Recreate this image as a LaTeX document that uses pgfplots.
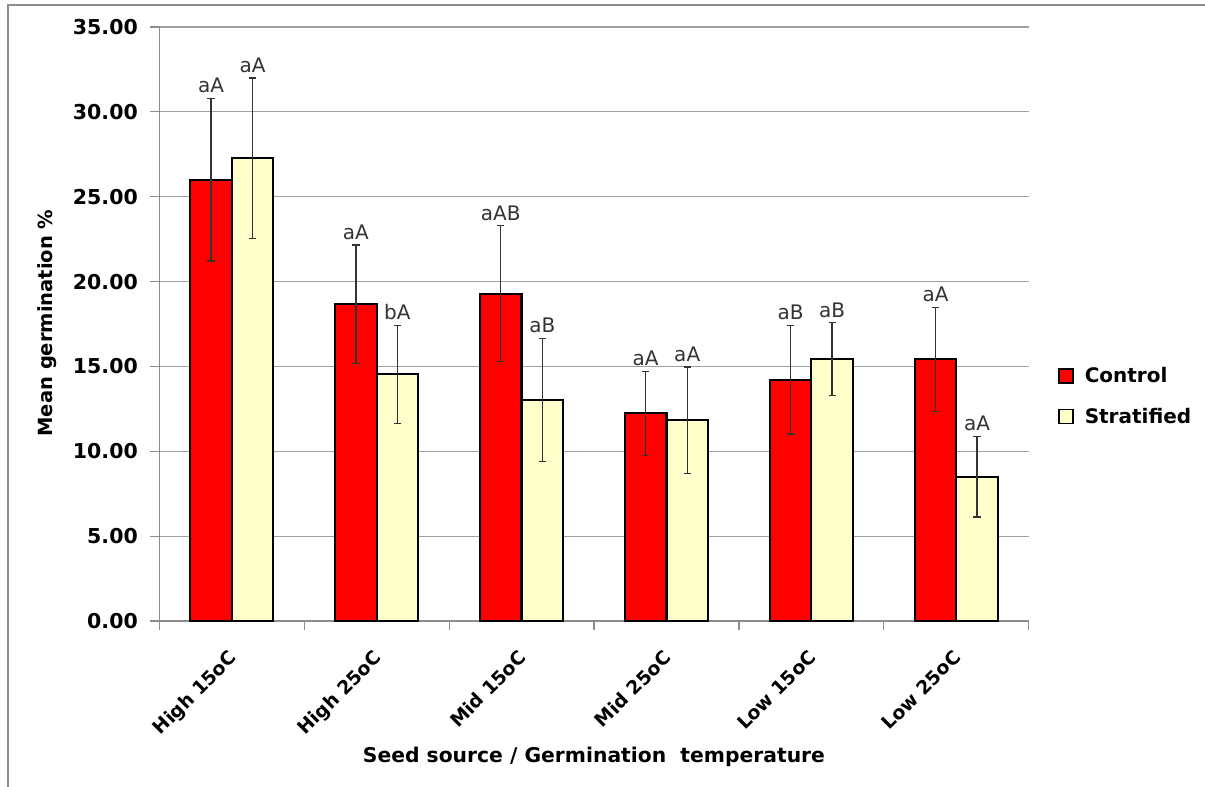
\documentclass[border=0pt]{standalone}
\usepackage{pgfplots}
\pgfplotsset{compat=1.18}
\usepackage{fontspec}
\setmainfont{DejaVu Sans}

\definecolor{ctrlred}{HTML}{FF0000}
\definecolor{stratcream}{HTML}{FFFFCC}
\definecolor{gridgray}{HTML}{A0A0A0}
\definecolor{axisgray}{HTML}{8C8C8C}
\definecolor{errgray}{HTML}{333333}

% mean germination (%), standard error, and significance letters
\pgfplotstableread{
x  y      err   lab
0  26.00  4.78  aA
1  18.66  3.50  aA
2  19.29  4.00  aAB
3  12.24  2.47  aA
4  14.21  3.19  aB
5  15.42  3.06  aA
}\control
\pgfplotstableread{
x  y      err   lab
0  27.27  4.72  aA
1  14.53  2.88  bA
2  13.02  3.63  aB
3  11.83  3.13  aA
4  15.42  2.15  aB
5  8.50   2.37  aA
}\stratified

\begin{document}
\begin{tikzpicture}[x=1bp,y=1bp]
\useasboundingbox (0,0) rectangle (1205,787);
% outer chart frame
\draw[axisgray, line width=1.2bp] (8,0) -- (8,782) -- (1205,782);

\begin{axis}[
  at={(159.3bp,166bp)}, anchor=south west,
  scale only axis, width=869.4bp, height=594bp,
  xmin=-0.5, xmax=5.5, ymin=0, ymax=35,
  clip=false,
  axis lines=left,
  axis line style={-, axisgray, line width=1.2bp},
  tick align=outside,
  xtick={-0.5,0.5,...,5.5},
  x tick label as interval,
  xticklabels={High 15oC, High 25oC, Mid 15oC, Mid 25oC, Low 15oC, Low 25oC},
  xticklabel style={rotate=45, anchor=north east, yshift=-7bp, xshift=-13bp,
    font=\bfseries\fontsize{18.8bp}{21bp}\selectfont},
  x tick style={axisgray, line width=1.2bp},
  major tick length=9bp,
  ytick={0,5,...,35},
  y tick style={axisgray, line width=1.2bp},
  yticklabel style={font=\bfseries\fontsize{20.5bp}{22bp}\selectfont, xshift=-9bp},
  /pgf/number format/.cd, fixed, fixed zerofill, precision=2, assume math mode=true,
  /pgfplots/.cd,
  ymajorgrids,
  grid style={gridgray, line width=1.1bp},
  ybar=0pt, bar width=41.5bp,
  every axis plot/.append style={draw=black, line width=2.2bp},
  error bars/y dir=both, error bars/y explicit,
  error bars/error bar style={errgray, line width=1.3bp},
  error bars/error mark options={errgray, line width=1.3bp, mark size=3.6bp, rotate=90},
  nodes near coords,
  point meta=explicit symbolic,
  visualization depends on={\thisrow{err} \as \errval},
  nodes near coords style={anchor=south, text=errgray,
    font=\fontsize{20bp}{22bp}\selectfont,
    shift={(axis direction cs:0,\errval)}, yshift=1bp},
  legend cell align=left,
  legend style={draw=none, fill=none, at={(1.034,0.378)}, anchor=west,
    font=\bfseries\fontsize{20bp}{22bp}\selectfont, row sep=20bp,
    inner sep=0pt, column sep=9bp},
  legend image code/.code={\draw[#1, line width=1.3bp] (0bp,-7bp) rectangle (14bp,7bp);},
]
\addplot[fill=ctrlred] table[x=x, y=y, y error=err, meta=lab] {\control};
\addplot[fill=stratcream] table[x=x, y=y, y error=err, meta=lab] {\stratified};
\legend{Control, Stratified}
\end{axis}

\node[rotate=90, font=\bfseries\fontsize{19.5bp}{21bp}\selectfont] at (47,464) {Mean germination \%};
\node[font=\bfseries\fontsize{20.3bp}{22bp}\selectfont] at (594,30) {Seed source / Germination\ \ temperature};
\end{tikzpicture}
\end{document}
